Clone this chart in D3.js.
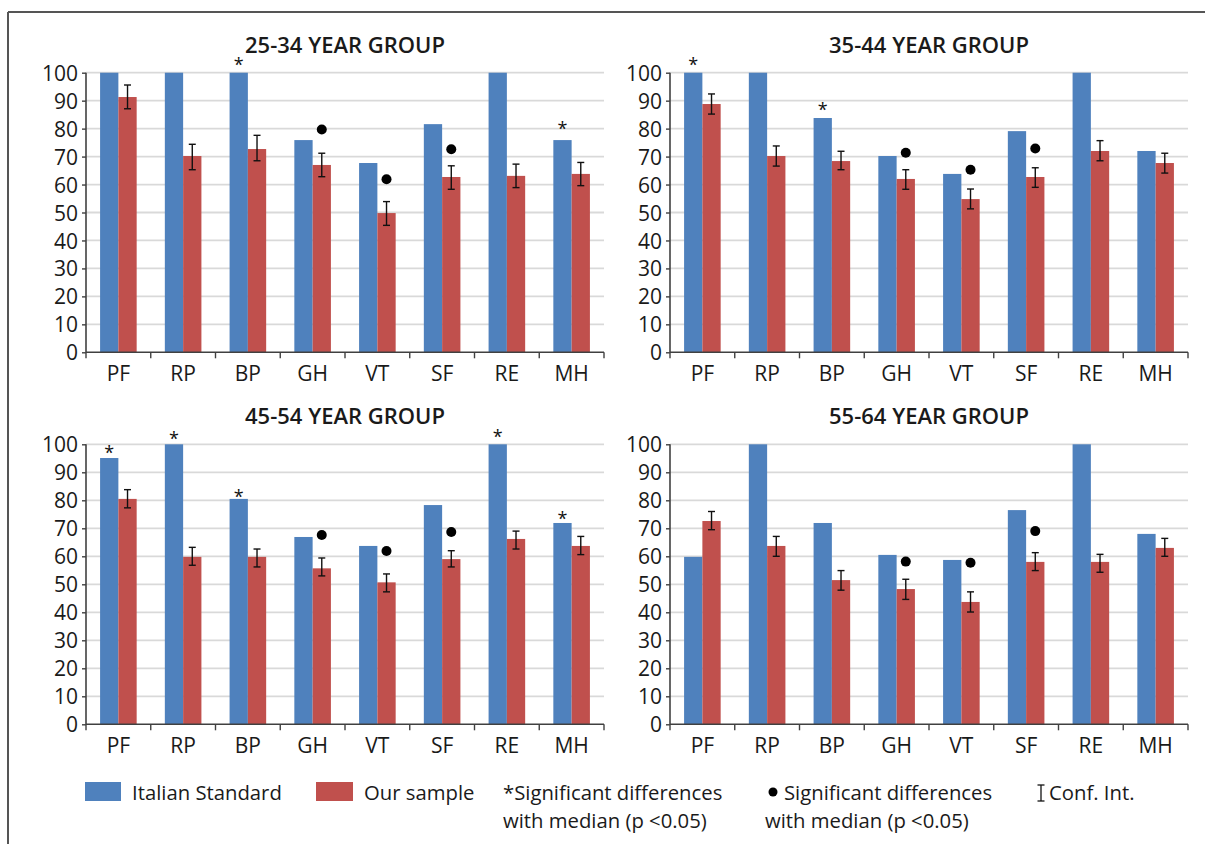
<!DOCTYPE html>
<html>
<head>
<meta charset="utf-8">
<script src="https://cdn.jsdelivr.net/npm/d3@7"></script>
<style>
  html, body { margin: 0; padding: 0; background: #fff; }
  svg { display: block; font-family: "Open Sans", "Noto Sans", sans-serif; }
</style>
</head>
<body>
<svg id="chart" width="1205" height="844"></svg>
<script>
// SF-36 domains
const categories = ["PF", "RP", "BP", "GH", "VT", "SF", "RE", "MH"];
const yTicks = [0, 10, 20, 30, 40, 50, 60, 70, 80, 90, 100];
const groupTitles = ["25-34 YEAR GROUP", "35-44 YEAR GROUP", "45-54 YEAR GROUP", "55-64 YEAR GROUP"];

// 25-34
const italian25 = [100, 100, 100, 75.9, 67.7, 81.6, 100, 75.9];
const sample25  = [91.3, 70.2, 72.7, 67.0, 49.8, 62.7, 63.1, 63.8];
const ciLow25   = [87.1, 65.3, 68.5, 62.8, 45.4, 58.3, 58.9, 59.6];
const ciHigh25  = [95.6, 74.4, 77.6, 71.2, 53.9, 66.7, 67.3, 67.9];
const star25    = [null, null, 104.2, null, null, null, null, 81.3];
const dot25     = [null, null, null, 79.7, 61.9, 72.6, null, null];

// 35-44
const italian35 = [100, 100, 83.8, 70.2, 63.8, 79.1, 100, 72.0];
const sample35  = [88.8, 70.2, 68.4, 62.0, 54.8, 62.7, 72.0, 67.7];
const ciLow35   = [85.2, 66.6, 65.3, 58.3, 51.3, 59.0, 68.5, 64.1];
const ciHigh35  = [92.4, 73.8, 71.9, 65.3, 58.4, 66.0, 75.7, 71.2];
const star35    = [104.2, null, 88.1, null, null, null, null, null];
const dot35     = [null, null, null, 71.4, 65.3, 72.9, null, null];

// 45-54
const italian45 = [95.1, 100, 80.5, 66.9, 63.7, 78.3, 100, 71.9];
const sample45  = [80.5, 59.8, 59.8, 55.7, 50.7, 59.0, 66.2, 63.7];
const ciLow45   = [77.3, 56.8, 56.2, 53.0, 47.3, 56.2, 62.6, 60.6];
const ciHigh45  = [83.8, 63.2, 62.6, 59.4, 53.7, 62.0, 69.0, 67.1];
const star45    = [98.6, 103.6, 82.7, null, null, null, 104.2, 75.1];
const dot45     = [null, null, null, 67.6, 61.9, 68.7, null, null];

// 55-64
const italian55 = [59.8, 100, 71.9, 60.5, 58.7, 76.5, 100, 68.0];
const sample55  = [72.6, 63.7, 51.5, 48.3, 43.7, 58.0, 58.0, 63.0];
const ciLow55   = [69.5, 60.0, 47.9, 44.6, 40.1, 54.9, 54.3, 60.0];
const ciHigh55  = [76.0, 67.1, 54.9, 51.8, 47.3, 61.3, 60.7, 66.4];
const star55    = [null, null, null, null, null, null, null, null];
const dot55     = [null, null, null, 58.1, 57.7, 69.0, null, null];

const seriesNames = ["Italian Standard", "Our sample"];
const colors = { italian: "#4f81bd", sample: "#c0504d" };

const panels = [
  { title: groupTitles[0], italian: italian25, sample: sample25, lo: ciLow25, hi: ciHigh25, star: star25, dot: dot25, x0: 86,  x1: 604,  y0: 72.7,  y1: 352.3 },
  { title: groupTitles[1], italian: italian35, sample: sample35, lo: ciLow35, hi: ciHigh35, star: star35, dot: dot35, x0: 670, x1: 1188, y0: 72.7,  y1: 352.3 },
  { title: groupTitles[2], italian: italian45, sample: sample45, lo: ciLow45, hi: ciHigh45, star: star45, dot: dot45, x0: 86,  x1: 604,  y0: 444.3, y1: 724.3 },
  { title: groupTitles[3], italian: italian55, sample: sample55, lo: ciLow55, hi: ciHigh55, star: star55, dot: dot55, x0: 670, x1: 1188, y0: 444.3, y1: 724.3 }
];

const svg = d3.select("#chart");

// outer frame: top and left rules
svg.append("line").attr("x1", 8).attr("x2", 1205).attr("y1", 12).attr("y2", 12)
  .attr("stroke", "#555").attr("stroke-width", 2);
svg.append("line").attr("x1", 8).attr("x2", 8).attr("y1", 12).attr("y2", 844)
  .attr("stroke", "#555").attr("stroke-width", 2);

panels.forEach(p => {
  const g = svg.append("g");
  const x = d3.scaleBand().domain(categories).range([p.x0, p.x1]).paddingInner(0).paddingOuter(0);
  const inner = d3.scaleBand().domain(["italian", "sample"]).range([0, x.bandwidth()]).paddingInner(0).paddingOuter(0.77);
  const y = d3.scaleLinear().domain([0, 100]).range([p.y1, p.y0]);

  // gridlines
  g.append("g").selectAll("line").data(yTicks.filter(t => t > 0)).join("line")
    .attr("x1", p.x0).attr("x2", p.x1)
    .attr("y1", d => y(d)).attr("y2", d => y(d))
    .attr("stroke", "#d9d9d9").attr("stroke-width", 1.8);

  // title
  g.append("text").attr("x", (p.x0 + p.x1) / 2).attr("y", p.y0 - 20)
    .attr("text-anchor", "middle").attr("font-size", 22).attr("font-weight", 600)
    .attr("fill", "#1a1a1a").text(p.title);

  // bars
  const rows = categories.map((c, i) => ({ c, i, italian: p.italian[i], sample: p.sample[i], lo: p.lo[i], hi: p.hi[i], star: p.star[i], dot: p.dot[i] }));

  g.append("g").selectAll("rect").data(rows).join("rect")
    .attr("x", d => x(d.c) + inner("italian"))
    .attr("width", inner.bandwidth())
    .attr("y", d => y(d.italian))
    .attr("height", d => y(0) - y(d.italian))
    .attr("fill", colors.italian);

  g.append("g").selectAll("rect").data(rows).join("rect")
    .attr("x", d => x(d.c) + inner("sample"))
    .attr("width", inner.bandwidth())
    .attr("y", d => y(d.sample))
    .attr("height", d => y(0) - y(d.sample))
    .attr("fill", colors.sample);

  // confidence intervals
  const eb = g.append("g").attr("stroke", "#111").attr("stroke-width", 1.4);
  rows.forEach(d => {
    const cx = x(d.c) + inner("sample") + inner.bandwidth() / 2;
    eb.append("line").attr("x1", cx).attr("x2", cx).attr("y1", y(d.hi)).attr("y2", y(d.lo));
    eb.append("line").attr("x1", cx - 3.5).attr("x2", cx + 3.5).attr("y1", y(d.hi)).attr("y2", y(d.hi));
    eb.append("line").attr("x1", cx - 3.5).attr("x2", cx + 3.5).attr("y1", y(d.lo)).attr("y2", y(d.lo));
  });

  // significance markers
  g.append("g").selectAll("text").data(rows.filter(d => d.star != null)).join("text")
    .attr("x", d => x(d.c) + inner("italian") + inner.bandwidth() / 2)
    .attr("y", d => y(d.star) + 10.5)
    .attr("text-anchor", "middle").attr("font-size", 18).attr("fill", "#111")
    .text("*");

  g.append("g").selectAll("circle").data(rows.filter(d => d.dot != null)).join("circle")
    .attr("cx", d => x(d.c) + inner("sample") + inner.bandwidth() / 2)
    .attr("cy", d => y(d.dot))
    .attr("r", 5).attr("fill", "#000");

  // y axis
  const yAxis = g.append("g").attr("transform", `translate(${p.x0},0)`)
    .call(d3.axisLeft(y).tickValues(yTicks).tickSize(4).tickPadding(4).tickFormat(d3.format("d")));
  yAxis.select(".domain").attr("stroke", "#404040").attr("stroke-width", 1.6).attr("d", `M0,${y(100)}V${y(0)}`);
  yAxis.selectAll(".tick line").attr("stroke", "#404040").attr("stroke-width", 1.4);
  yAxis.selectAll(".tick text").attr("font-size", 21).attr("fill", "#1a1a1a")
    .attr("font-family", "'Open Sans', sans-serif").attr("dy", "0.36em");

  // x axis with boundary ticks
  const xAxis = g.append("g").attr("transform", `translate(0,${p.y1})`);
  xAxis.append("line").attr("x1", p.x0).attr("x2", p.x1).attr("y1", 0).attr("y2", 0)
    .attr("stroke", "#404040").attr("stroke-width", 1.6);
  const bounds = categories.map(c => x(c)).concat([p.x1]);
  xAxis.selectAll("line.tk").data(bounds).join("line").attr("class", "tk")
    .attr("x1", d => d).attr("x2", d => d).attr("y1", 0).attr("y2", 6)
    .attr("stroke", "#404040").attr("stroke-width", 1.4);
  xAxis.selectAll("text").data(categories).join("text")
    .attr("x", d => x(d) + x.bandwidth() / 2).attr("y", 29)
    .attr("text-anchor", "middle").attr("font-size", 21).attr("fill", "#1a1a1a")
    .text(d => d);
});

// legend
const lg = svg.append("g").attr("font-size", 20.3).attr("fill", "#1a1a1a");
lg.append("rect").attr("x", 85).attr("y", 782).attr("width", 36).attr("height", 19).attr("fill", colors.italian);
lg.append("text").attr("x", 132).attr("y", 800).text(seriesNames[0]);
lg.append("rect").attr("x", 316).attr("y", 782).attr("width", 37).attr("height", 19).attr("fill", colors.sample);
lg.append("text").attr("x", 364).attr("y", 800).text(seriesNames[1]);
lg.append("text").attr("x", 503).attr("y", 800).text("*Significant differences");
lg.append("text").attr("x", 503).attr("y", 828).text("with median (p <0.05)");
lg.append("circle").attr("cx", 773).attr("cy", 792).attr("r", 4.5).attr("fill", "#000");
lg.append("text").attr("x", 784).attr("y", 800).text("Significant differences");
lg.append("text").attr("x", 765).attr("y", 828).text("with median (p <0.05)");
const ci = lg.append("g").attr("stroke", "#111").attr("stroke-width", 1.3);
ci.append("line").attr("x1", 1041).attr("x2", 1041).attr("y1", 785).attr("y2", 801);
ci.append("line").attr("x1", 1037.5).attr("x2", 1044.5).attr("y1", 785).attr("y2", 785);
ci.append("line").attr("x1", 1037.5).attr("x2", 1044.5).attr("y1", 801).attr("y2", 801);
lg.append("text").attr("x", 1049).attr("y", 800).text("Conf. Int.");
</script>
</body>
</html>
